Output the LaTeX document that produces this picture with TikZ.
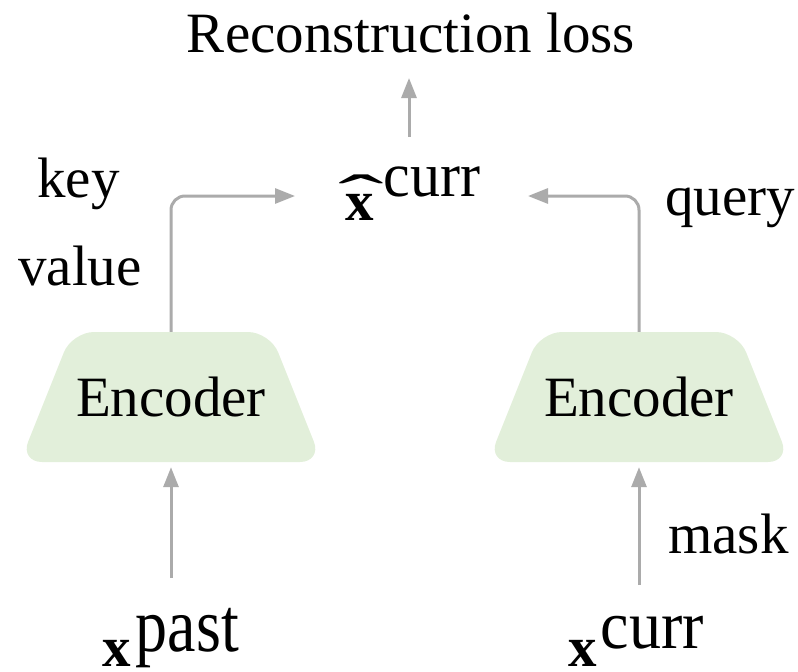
\documentclass[tikz,border=0pt]{standalone}
\usepackage{fontspec}
\usepackage{graphicx}
\setmainfont{Liberation Serif}
\usetikzlibrary{arrows.meta}
\definecolor{encgreen}{HTML}{E2EFDA}
\definecolor{arrgray}{HTML}{ABABAB}
\tikzset{
  arr/.style={draw=arrgray, line width=3pt, -{Triangle[length=20pt,width=15pt]}},
  lbl/.style={inner sep=0pt, font=\fontsize{57}{68}\selectfont},
  enctext/.style={inner sep=0pt, minimum width=208pt, minimum height=130pt,
    font=\fontsize{57}{68}\selectfont},
  encshape/.style={fill=encgreen, rounded corners=22pt},
}
% superscript: raise, font size, vertical stretch, text
\newcommand{\supsc}[4]{\raisebox{#1pt}{\fontsize{#2}{#2}\selectfont\scalebox{1}[#3]{#4}}}
% bold x with a wide, thin hat above it
\newcommand{\hatx}{\rlap{\hspace{-7pt}\raisebox{4pt}{\scalebox{2.4}[1.05]{\symbol{"02C6}}}}\textbf{x}}
\begin{document}
\begin{tikzpicture}[x=1pt, y=-1pt]
\useasboundingbox (0,0) rectangle (798,672);

% encoder bodies (rounded trapezia)
\fill[encshape] (72,332) -- (270,332) -- (322,462) -- (20,462) -- cycle;
\fill[encshape] (540,332) -- (738,332) -- (790,462) -- (488,462) -- cycle;
\node[enctext] (encL) at (171,397) {Encoder};
\node[enctext] (encR) at (639,397) {Encoder};

% texts
\node[lbl, anchor=base] (recon) at (411,52) {Reconstruction loss};
\node[lbl, anchor=base west] (key) at (37,197) {key};
\node[lbl, anchor=base west] (value) at (18,285) {value};
\node[lbl, anchor=base west] (query) at (665,215) {query};
\node[lbl, anchor=base west] (mask) at (668,553) {mask};
\node[lbl, anchor=base west] (xhat) at (345,220)
  {\hatx\hspace{10pt}\supsc{24}{60}{1.05}{curr}};
\node[lbl, anchor=base west] (xpast) at (102,666)
  {\textbf{x}\hspace{5pt}\supsc{15}{64}{1.2}{past}};
\node[lbl, anchor=base west] (xcurr) at (568,666)
  {\textbf{x}\hspace{4pt}\supsc{18}{64}{1.07}{curr}};

% connector ends
\coordinate (kvtip) at (295,196);
\coordinate (qtip) at (528,196);
\coordinate (upS) at (409,137);
\coordinate (upE) at (409,78);
\coordinate (pastS) at (171,578);
\coordinate (currS) at (639,585);

% connectors
\draw[arr, rounded corners=14pt] (encL.north) |- (kvtip);
\draw[arr, rounded corners=14pt] (encR.north) |- (qtip);
\draw[arr] (upS) -- (upE);
\draw[arr, shorten >=5pt] (pastS) -- (encL.south);
\draw[arr, shorten >=5pt] (currS) -- (encR.south);
\end{tikzpicture}
\end{document}
